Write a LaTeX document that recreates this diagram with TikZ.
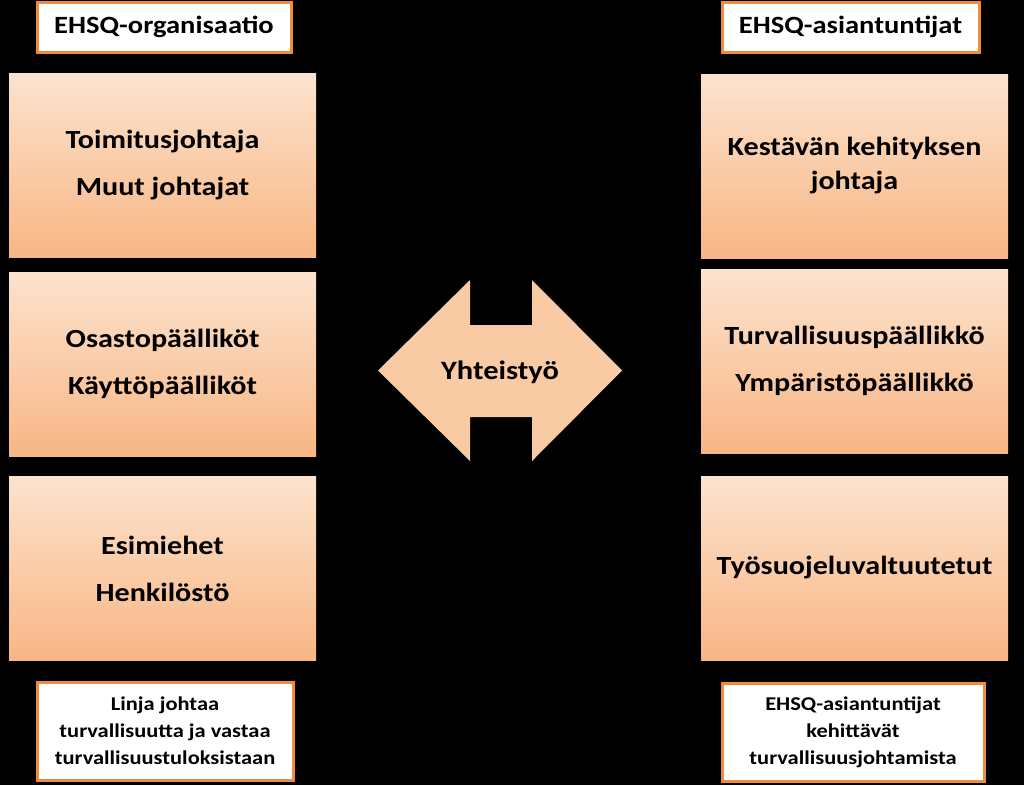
\documentclass[tikz,border=0pt]{standalone}
\usepackage{fontspec}
\setmainfont{Carlito}[FakeStretch=1.15]
\definecolor{boxtop}{HTML}{FCE3CE}
\definecolor{boxbot}{HTML}{F8B684}
\definecolor{arrfill}{HTML}{F8CBA4}
\definecolor{lblborder}{HTML}{F28C3C}
\begin{document}
\begin{tikzpicture}[x=1pt,y=-1pt,
  rolebox/.style={rectangle, draw=none, top color=boxtop, bottom color=boxbot,
    minimum width=307pt, minimum height=184pt, inner sep=0pt, align=center,
    font=\bfseries\fontsize{26.2}{34}\selectfont, text=black},
  toplabel/.style={rectangle, draw=lblborder, line width=3pt, fill=white,
    minimum height=50pt, inner sep=0pt, align=center,
    font=\bfseries\fontsize{24.8}{30}\selectfont, text=black},
  botlabel/.style={rectangle, draw=lblborder, line width=3pt, fill=white,
    minimum height=98pt, inner sep=0pt, align=center,
    font=\bfseries\fontsize{19.5}{27}\selectfont, text=black},
  dblarrow/.style={fill=arrfill, draw=none}]
\useasboundingbox (0,0) rectangle (1024,785);
\fill[black] (0,0) rectangle (1024,785);

% left column
\node[toplabel, minimum width=254pt] (lt) at (164,27) {EHSQ-organisaatio};
\node[rolebox] (l1) at (162.5,165) {Toimitusjohtaja\\[13pt]Muut johtajat};
\node[rolebox] (l2) at (162.5,364) {Osastopäälliköt\\[13pt]Käyttöpäälliköt};
\node[rolebox] (l3) at (162.5,568.5) {Esimiehet\\[13pt]Henkilöstö};
\node[botlabel, minimum width=256pt] (lb) at (165,731) {Linja johtaa\\turvallisuutta ja vastaa\\turvallisuustuloksistaan};

% right column
\node[toplabel, minimum width=257pt] (rt) at (850.5,27) {EHSQ-asiantuntijat};
\node[rolebox] (r1) at (854.5,166) {Kestävän kehityksen\\johtaja};
\node[rolebox] (r2) at (854.5,361) {Turvallisuuspäällikkö\\[13pt]Ympäristöpäällikkö};
\node[rolebox] (r3) at (854.5,568) {Työsuojeluvaltuutetut};
\node[botlabel, minimum width=262pt] (rb) at (853,732) {EHSQ-asiantuntijat\\kehittävät\\turvallisuusjohtamista};

% double arrow
\fill[dblarrow] (378,370.5) -- (470,280) -- (470,325) -- (532,325) -- (532,280)
  -- (622,370.5) -- (532,461) -- (532,417) -- (470,417) -- (470,461) -- cycle;
\node[font=\bfseries\fontsize{26.5}{30}\selectfont, text=black] (yt) at (500,372) {Yhteistyö};
\end{tikzpicture}
\end{document}
